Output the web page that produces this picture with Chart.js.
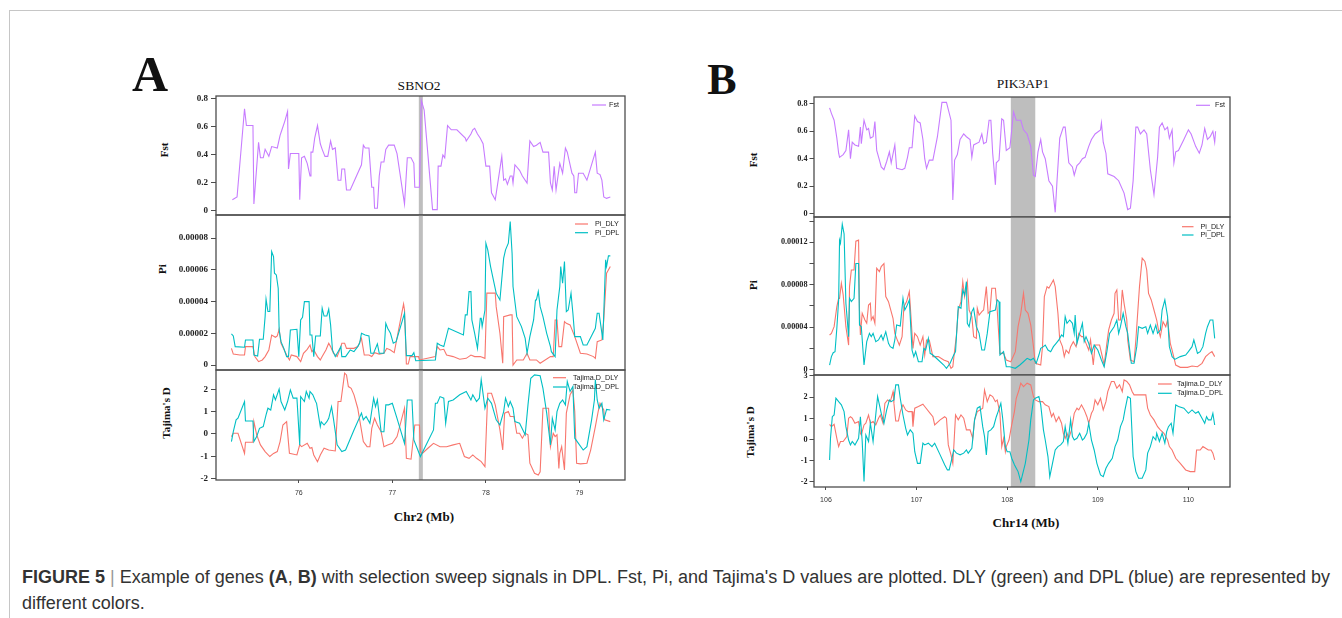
<!DOCTYPE html>
<html>
<head>
<meta charset="utf-8">
<title>Figure 5</title>
<script src="https://cdn.jsdelivr.net/npm/chart.js@4.4.1/dist/chart.umd.min.js"></script>
<style>
  html, body { margin: 0; padding: 0; background: #fff; }
  body { position: relative; width: 1342px; height: 618px; overflow: hidden; }
  #frame { position: absolute; left: 9px; top: 10px; width: 1400px; height: 700px; border-left: 1px solid #c6c6c6; border-top: 1px solid #c6c6c6; }
  .txt { position: absolute; font-family: "Liberation Serif", "Times New Roman", serif; color: #111; white-space: nowrap; line-height: 1; transform: translate(-50%, -50%); }
  .rot { transform: translate(-50%, -50%) rotate(-90deg); }
  canvas { position: absolute; }
  #caption { position: absolute; left: 22px; top: 564px; white-space: nowrap; font-family: "Liberation Sans", Arial, sans-serif; font-size: 18px; line-height: 26px; color: #333; }
  #caption .bar { color: #999; }
</style>
</head>
<body>
<div id="frame"></div>

<div class="txt" style="left:150px;top:74px;font-size:50px;font-weight:bold">A</div>
<div class="txt" style="left:722px;top:80px;font-size:44px;font-weight:bold">B</div>
<div class="txt" style="left:419px;top:86px;font-size:13.5px">SBNO2</div>
<div class="txt" style="left:1023px;top:84px;font-size:13.5px">PIK3AP1</div>

<div class="txt rot" style="left:164px;top:150px;font-size:11px;font-weight:bold">Fst</div>
<div class="txt rot" style="left:162px;top:269px;font-size:11px;font-weight:bold">Pi</div>
<div class="txt rot" style="left:166px;top:413px;font-size:11px;font-weight:bold">Tajima's D</div>
<div class="txt rot" style="left:753px;top:160px;font-size:11px;font-weight:bold">Fst</div>
<div class="txt rot" style="left:753px;top:285px;font-size:11px;font-weight:bold">Pi</div>
<div class="txt rot" style="left:750px;top:432px;font-size:11px;font-weight:bold">Tajima's D</div>

<div class="txt" style="left:424px;top:516px;font-size:13px;font-weight:bold">Chr2 (Mb)</div>
<div class="txt" style="left:1026px;top:522px;font-size:13px;font-weight:bold">Chr14 (Mb)</div>

<div id="caption"><b>FIGURE 5</b> <span class="bar">|</span> Example of genes <b>(A</b>, <b>B)</b> with selection sweep signals in DPL. Fst, Pi, and Tajima's D values are plotted. DLY (green) and DPL (blue) are represented by<br>different colors.</div>

<script>
// Pi values below are in units of 1e-5
const PI_UNIT = 1e-5;

// ---- Panel A : SBNO2, Chr2 ----
const A_FST = [[75.29,.08],[75.34,.10],[75.42,.73],[75.44,.61],[75.51,.61],[75.52,.05],[75.57,.49],[75.59,.38],[75.62,.38],[75.64,.44],[75.68,.39],[75.71,.46],[75.77,.45],[75.80,.54],[75.82,.58],[75.85,.64],[75.88,.71],[75.89,.30],[75.91,.41],[76.00,.41],[76.01,.08],[76.03,.38],[76.06,.39],[76.09,.34],[76.12,.25],[76.13,.42],[76.15,.42],[76.17,.52],[76.20,.61],[76.23,.48],[76.25,.44],[76.28,.39],[76.31,.39],[76.34,.50],[76.36,.44],[76.39,.45],[76.42,.22],[76.45,.22],[76.46,.30],[76.49,.30],[76.51,.15],[76.55,.15],[76.67,.33],[76.69,.47],[76.71,.45],[76.75,.45],[76.78,.17],[76.80,.17],[76.81,.02],[76.84,.02],[76.86,.25],[76.88,.35],[76.91,.35],[76.93,.44],[76.96,.47],[77.02,.47],[77.05,.41],[77.13,.05],[77.16,.38],[77.20,.38],[77.23,.34],[77.24,.17],[77.29,.17],[77.31,.79],[77.34,.72],[77.43,.01],[77.48,.01],[77.49,.32],[77.52,.32],[77.54,.40],[77.56,.38],[77.59,.61],[77.63,.58],[77.69,.58],[77.78,.52],[77.79,.50],[77.84,.55],[77.86,.58],[77.88,.59],[77.91,.55],[77.94,.52],[77.97,.48],[78.00,.32],[78.04,.32],[78.06,.13],[78.10,.08],[78.17,.39],[78.19,.22],[78.21,.23],[78.23,.19],[78.26,.25],[78.28,.25],[78.29,.20],[78.31,.33],[78.36,.29],[78.39,.25],[78.44,.20],[78.47,.50],[78.51,.46],[78.54,.47],[78.58,.49],[78.61,.42],[78.67,.42],[78.69,.20],[78.71,.15],[78.73,.32],[78.75,.15],[78.79,.34],[78.82,.27],[78.85,.45],[78.87,.42],[78.92,.27],[78.94,.25],[78.95,.13],[78.97,.13],[78.99,.27],[79.04,.27],[79.08,.22],[79.17,.42],[79.19,.27],[79.22,.26],[79.24,.22],[79.26,.10],[79.29,.09],[79.33,.10]];

const A_PI_DLY = [[75.28,1.05],[75.30,.69],[75.37,.63],[75.42,.63],[75.43,1.16],[75.51,1.16],[75.53,.53],[75.57,.21],[75.61,.32],[75.64,.53],[75.68,.95],[75.71,1.89],[75.75,1.75],[75.77,1.83],[75.79,2.25],[75.81,1.37],[75.87,.63],[75.90,.32],[75.92,.63],[75.98,.53],[76.02,.21],[76.05,.74],[76.09,.99],[76.12,1.26],[76.14,.84],[76.16,.95],[76.20,.53],[76.23,.32],[76.25,.53],[76.29,.95],[76.32,1.37],[76.34,1.16],[76.37,.74],[76.41,.53],[76.45,1.16],[76.46,1.37],[76.49,1.37],[76.51,1.05],[76.59,1.05],[76.63,1.16],[76.67,1.68],[76.70,.63],[76.75,.63],[76.78,.53],[76.81,.78],[76.86,.69],[76.91,.74],[76.94,1.05],[76.98,.95],[77.02,.78],[77.12,3.85],[77.13,3.47],[77.15,.06],[77.17,.06],[77.19,.53],[77.28,.53],[77.29,.32],[77.46,.53],[77.48,1.16],[77.51,.95],[77.55,.99],[77.58,.63],[77.65,.53],[77.72,.36],[77.79,.42],[77.84,.63],[77.88,.53],[77.94,.53],[77.99,.42],[78.01,4.53],[78.10,4.53],[78.11,3.68],[78.15,2.0],[78.18,.11],[78.19,3.05],[78.26,3.16],[78.28,3.16],[78.29,0],[78.33,.32],[78.40,.32],[78.44,.74],[78.47,.32],[78.54,.32],[78.58,.11],[78.69,.53],[78.72,.53],[78.74,2.84],[78.76,2.84],[78.78,1.16],[78.81,1.16],[78.84,2.74],[78.86,2.63],[78.90,2.53],[78.95,1.79],[79.01,.74],[79.08,.69],[79.15,.53],[79.17,.42],[79.19,1.47],[79.24,1.58],[79.26,2.84],[79.29,5.79],[79.33,6.21]];

const A_PI_DPL = [[75.28,1.96],[75.30,1.83],[75.32,1.16],[75.42,1.12],[75.43,1.58],[75.51,1.58],[75.52,.63],[75.56,.57],[75.58,1.62],[75.62,1.62],[75.64,3.05],[75.65,4.15],[75.67,3.37],[75.69,3.37],[75.71,7.16],[75.73,6.84],[75.74,5.79],[75.76,5.68],[75.78,4.84],[75.79,2.21],[75.81,1.47],[75.84,1.05],[75.87,.53],[75.89,.53],[75.91,2.21],[75.98,2.25],[76.00,.53],[76.02,2.84],[76.04,3.01],[76.06,4.0],[76.11,4.0],[76.12,1.89],[76.14,1.89],[76.16,.53],[76.18,1.83],[76.23,1.83],[76.25,3.58],[76.27,3.09],[76.30,3.09],[76.32,3.52],[76.34,2.53],[76.36,.95],[76.39,.53],[76.42,.84],[76.45,1.16],[76.46,.53],[76.50,.53],[76.55,.95],[76.59,.84],[76.63,1.16],[76.65,1.37],[76.67,2.0],[76.71,1.89],[76.75,1.83],[76.77,.74],[76.80,.74],[76.84,1.33],[76.86,.74],[76.91,.74],[76.93,2.63],[76.95,2.32],[76.98,2.0],[77.01,1.37],[77.04,1.47],[77.13,3.26],[77.15,.59],[77.21,.59],[77.23,.78],[77.25,.27],[77.46,.32],[77.48,1.37],[77.51,1.26],[77.55,1.16],[77.60,2.32],[77.76,1.89],[77.78,3.16],[77.80,3.16],[77.82,4.63],[77.84,4.63],[77.85,2.84],[77.88,2.0],[77.91,1.05],[77.94,2.95],[77.95,2.95],[77.96,2.42],[77.99,3.47],[78.00,7.68],[78.02,7.26],[78.05,6.21],[78.08,5.37],[78.11,4.53],[78.15,4.1],[78.19,6.74],[78.21,7.26],[78.24,7.68],[78.26,9.05],[78.28,7.05],[78.29,4.95],[78.33,3.05],[78.38,2.42],[78.42,1.68],[78.44,.74],[78.47,1.79],[78.51,2.84],[78.53,4.1],[78.54,4.1],[78.56,4.63],[78.58,3.68],[78.61,3.05],[78.65,2.0],[78.69,1.16],[78.70,.84],[78.74,.53],[78.76,3.47],[78.79,4.95],[78.80,6.21],[78.82,5.16],[78.84,6.53],[78.86,3.37],[78.88,3.47],[78.91,4.53],[78.93,3.26],[78.95,1.79],[79.01,1.79],[79.04,1.26],[79.08,1.26],[79.17,2.32],[79.19,3.26],[79.21,3.26],[79.25,1.58],[79.28,6.63],[79.29,6.21],[79.31,6.88],[79.33,6.88]];

const A_TD_DLY = [[75.28,-.12],[75.30,.03],[75.35,.03],[75.42,-.87],[75.43,-.37],[75.51,-.37],[75.52,.55],[75.55,-.04],[75.59,-.49],[75.64,-.79],[75.69,-1.01],[75.73,-.87],[75.77,-.79],[75.80,-.34],[75.83,.40],[75.87,.55],[75.90,-.87],[75.98,-.94],[76.01,-.49],[76.03,-.57],[76.09,-.42],[76.12,-.64],[76.14,-.61],[76.16,-.94],[76.20,-1.24],[76.23,-.94],[76.27,-.64],[76.32,-.72],[76.39,-.76],[76.42,1.45],[76.45,1.45],[76.49,2.72],[76.51,2.64],[76.53,2.12],[76.56,2.04],[76.59,1.75],[76.63,1.15],[76.69,-.34],[76.73,-.57],[76.76,-.57],[76.78,.25],[76.81,.70],[76.84,.40],[76.88,.10],[76.91,-.57],[76.95,-.49],[77.00,-.42],[77.05,-.12],[77.13,1.15],[77.15,-1.09],[77.20,-1.13],[77.23,.03],[77.24,.40],[77.29,.40],[77.30,-.79],[77.32,-.87],[77.38,-.64],[77.44,-.42],[77.51,-.57],[77.58,-.57],[77.65,-.49],[77.72,-.42],[77.77,-1.01],[77.82,-1.09],[77.86,-.94],[77.90,-1.09],[77.95,-1.24],[77.99,-1.46],[78.02,1.82],[78.06,1.82],[78.10,1.30],[78.15,.18],[78.18,-.72],[78.20,.93],[78.24,1.0],[78.26,.78],[78.30,.78],[78.33,.03],[78.36,.03],[78.39,-.19],[78.42,.03],[78.45,-.04],[78.47,-1.31],[78.52,-1.76],[78.56,-1.84],[78.58,-1.69],[78.61,1.15],[78.67,1.15],[78.69,-.57],[78.72,.03],[78.74,-.12],[78.76,-.04],[78.78,-1.54],[78.79,-.87],[78.81,-.57],[78.84,-1.61],[78.86,.93],[78.90,1.75],[78.93,1.97],[78.95,1.0],[78.97,-1.31],[79.01,-1.34],[79.08,-1.31],[79.12,-.72],[79.17,.33],[79.20,1.0],[79.22,1.37],[79.26,1.07],[79.27,.63],[79.33,.55]];

const A_TD_DPL = [[75.28,-.34],[75.30,.10],[75.33,.63],[75.35,.70],[75.42,1.45],[75.43,.58],[75.51,.58],[75.52,-.34],[75.55,-.12],[75.58,.25],[75.62,.33],[75.65,.85],[75.67,1.15],[75.70,1.07],[75.73,1.75],[75.75,1.52],[75.79,2.01],[75.81,1.45],[75.85,1.07],[75.88,1.45],[75.91,1.97],[75.94,1.60],[75.98,1.60],[76.01,-.49],[76.02,1.67],[76.06,1.45],[76.08,1.90],[76.11,1.60],[76.12,1.90],[76.15,1.75],[76.18,1.45],[76.19,1.37],[76.23,.33],[76.24,.55],[76.27,.40],[76.30,.55],[76.32,.70],[76.35,1.22],[76.37,.70],[76.41,-.49],[76.46,-.79],[76.50,-.72],[76.59,.18],[76.67,.93],[76.69,.63],[76.72,.78],[76.76,.48],[76.80,1.60],[76.82,1.22],[76.84,1.52],[76.88,.10],[76.91,.10],[76.93,1.30],[76.96,1.30],[77.00,1.37],[77.05,.70],[77.13,-.42],[77.16,1.52],[77.21,1.52],[77.23,-.27],[77.30,-1.01],[77.44,.18],[77.46,1.37],[77.48,1.37],[77.51,1.67],[77.55,1.60],[77.57,.48],[77.60,1.45],[77.65,1.52],[77.72,1.75],[77.79,1.90],[77.84,1.52],[77.86,1.75],[77.90,1.45],[77.93,1.60],[77.95,2.42],[77.99,1.15],[78.02,1.60],[78.06,1.37],[78.11,.63],[78.15,.40],[78.19,1.0],[78.21,1.60],[78.24,1.22],[78.26,1.45],[78.29,1.15],[78.31,.55],[78.36,.48],[78.42,-.04],[78.45,1.30],[78.48,2.49],[78.52,2.64],[78.58,2.60],[78.61,2.04],[78.65,.93],[78.69,-.49],[78.71,.70],[78.74,.18],[78.76,1.0],[78.79,1.37],[78.82,1.52],[78.85,1.30],[78.87,2.34],[78.90,1.90],[78.93,2.12],[78.95,-.19],[79.04,-.72],[79.08,-.57],[79.13,.63],[79.16,1.52],[79.17,2.42],[79.19,1.52],[79.21,1.15],[79.24,1.37],[79.26,.63],[79.29,1.10],[79.33,1.07]];

// ---- Panel B : PIK3AP1, Chr14 ----
const B_FST = [[106.04,.77],[106.06,.73],[106.09,.68],[106.12,.55],[106.14,.44],[106.15,.41],[106.19,.43],[106.22,.46],[106.25,.61],[106.27,.40],[106.29,.52],[106.32,.50],[106.36,.49],[106.38,.63],[106.39,.51],[106.42,.68],[106.45,.61],[106.47,.62],[106.49,.55],[106.52,.56],[106.54,.67],[106.56,.46],[106.59,.39],[106.61,.34],[106.64,.32],[106.67,.38],[106.70,.45],[106.72,.37],[106.76,.50],[106.78,.33],[106.84,.32],[106.87,.33],[106.90,.41],[106.92,.48],[106.95,.48],[106.98,.71],[107.01,.67],[107.04,.66],[107.07,.54],[107.09,.40],[107.11,.33],[107.14,.39],[107.18,.39],[107.23,.56],[107.28,.81],[107.33,.81],[107.38,.68],[107.40,.10],[107.42,.39],[107.45,.43],[107.48,.54],[107.52,.58],[107.55,.56],[107.59,.54],[107.61,.41],[107.63,.50],[107.66,.51],[107.69,.52],[107.72,.58],[107.74,.51],[107.77,.52],[107.80,.68],[107.82,.68],[107.84,.44],[107.87,.21],[107.88,.37],[107.91,.39],[107.94,.69],[107.96,.68],[107.99,.46],[108.03,.48],[108.07,.74],[108.10,.68],[108.15,.68],[108.18,.61],[108.22,.58],[108.26,.49],[108.29,.28],[108.31,.27],[108.34,.45],[108.37,.54],[108.39,.45],[108.42,.40],[108.46,.24],[108.50,.20],[108.53,.01],[108.55,.24],[108.58,.55],[108.62,.63],[108.64,.63],[108.68,.37],[108.72,.34],[108.74,.28],[108.77,.35],[108.80,.37],[108.83,.40],[108.86,.41],[108.90,.49],[108.93,.54],[108.97,.58],[109.03,.61],[109.04,.66],[109.06,.52],[109.09,.44],[109.11,.29],[109.18,.27],[109.23,.24],[109.29,.15],[109.33,.03],[109.36,.04],[109.39,.24],[109.42,.63],[109.44,.63],[109.47,.58],[109.51,.61],[109.54,.58],[109.58,.32],[109.62,.14],[109.66,.41],[109.68,.63],[109.71,.66],[109.74,.61],[109.77,.63],[109.79,.55],[109.82,.61],[109.84,.37],[109.86,.45],[109.89,.46],[109.95,.54],[110.00,.61],[110.03,.58],[110.08,.49],[110.12,.44],[110.15,.50],[110.18,.62],[110.21,.54],[110.24,.56],[110.27,.60],[110.29,.52],[110.30,.60]];

const B_PI_DLY = [[106.04,3.27],[106.06,3.42],[106.09,4.05],[106.12,5.94],[106.14,6.72],[106.15,6.72],[106.17,8.14],[106.19,7.04],[106.22,4.05],[106.25,2.32],[106.26,7.82],[106.28,9.39],[106.31,9.39],[106.33,12.1],[106.36,12.2],[106.37,5.62],[106.38,3.27],[106.40,5.31],[106.43,4.68],[106.45,4.37],[106.47,6.09],[106.49,6.25],[106.50,4.68],[106.52,5.0],[106.54,4.37],[106.56,9.55],[106.59,9.24],[106.61,9.71],[106.64,10.0],[106.66,6.88],[106.69,6.41],[106.71,5.78],[106.74,4.84],[106.76,3.42],[106.78,2.95],[106.81,2.32],[106.84,3.11],[106.86,5.94],[106.89,6.41],[106.92,7.35],[106.93,6.09],[106.96,2.01],[106.98,3.42],[107.01,3.11],[107.04,2.32],[107.07,3.11],[107.09,1.38],[107.11,2.80],[107.14,2.80],[107.18,1.23],[107.24,1.23],[107.30,.91],[107.35,.75],[107.38,.13],[107.40,.28],[107.41,1.07],[107.44,3.27],[107.46,5.62],[107.49,6.41],[107.51,8.29],[107.53,6.88],[107.56,8.29],[107.58,5.62],[107.61,5.0],[107.63,3.11],[107.66,2.95],[107.67,5.78],[107.69,5.15],[107.72,5.47],[107.74,5.62],[107.77,7.82],[107.79,5.31],[107.81,5.47],[107.83,7.67],[107.87,7.67],[107.89,5.62],[107.92,1.54],[107.96,1.54],[107.99,.91],[108.04,.75],[108.09,1.70],[108.12,4.05],[108.15,5.31],[108.18,7.19],[108.20,5.62],[108.23,5.31],[108.26,4.21],[108.29,2.17],[108.31,.60],[108.37,.44],[108.39,2.17],[108.41,6.88],[108.44,7.82],[108.46,7.67],[108.49,8.14],[108.51,8.45],[108.53,7.82],[108.56,5.31],[108.58,2.80],[108.61,2.17],[108.63,1.23],[108.65,1.85],[108.68,1.54],[108.70,2.17],[108.73,2.64],[108.76,2.17],[108.79,3.42],[108.82,3.11],[108.84,3.11],[108.87,2.48],[108.90,1.85],[108.92,2.80],[108.95,.44],[108.97,2.32],[109.02,2.32],[109.05,1.23],[109.07,.44],[109.10,2.48],[109.12,3.74],[109.15,4.68],[109.18,5.31],[109.19,7.19],[109.21,7.51],[109.23,4.68],[109.25,4.68],[109.27,7.51],[109.29,6.25],[109.32,4.68],[109.33,2.80],[109.36,.91],[109.40,.75],[109.42,2.80],[109.44,5.31],[109.46,7.82],[109.49,10.5],[109.52,10.2],[109.54,9.39],[109.56,7.19],[109.59,6.57],[109.62,5.62],[109.65,4.68],[109.67,3.74],[109.69,3.11],[109.72,4.52],[109.75,4.05],[109.77,4.68],[109.80,2.48],[109.82,1.85],[109.86,.44],[109.91,.22],[109.99,.22],[110.04,.35],[110.10,.28],[110.15,.60],[110.19,1.23],[110.23,1.54],[110.26,1.70],[110.29,1.23]];

const B_PI_DPL = [[106.04,.44],[106.06,1.23],[106.08,1.60],[106.10,1.70],[106.12,3.90],[106.14,6.57],[106.15,12.2],[106.16,11.9],[106.18,13.7],[106.20,12.8],[106.22,6.25],[106.25,3.11],[106.26,6.72],[106.28,6.41],[106.31,6.72],[106.33,10.0],[106.36,10.0],[106.37,4.21],[106.39,4.05],[106.42,.44],[106.45,2.64],[106.48,3.42],[106.50,3.11],[106.52,3.42],[106.55,2.64],[106.58,2.80],[106.61,3.27],[106.63,2.80],[106.66,3.58],[106.69,2.48],[106.71,2.17],[106.74,2.01],[106.76,2.80],[106.78,4.21],[106.82,4.12],[106.85,6.72],[106.87,5.62],[106.89,5.94],[106.92,6.57],[106.95,1.85],[106.97,1.23],[106.99,1.70],[107.02,.75],[107.06,.75],[107.08,2.01],[107.10,1.85],[107.13,2.95],[107.15,1.54],[107.18,1.38],[107.24,.91],[107.30,.44],[107.33,.13],[107.37,.60],[107.41,1.38],[107.43,1.70],[107.46,5.94],[107.49,5.78],[107.51,7.51],[107.53,7.04],[107.55,8.29],[107.56,4.37],[107.58,4.05],[107.61,5.47],[107.63,5.78],[107.66,4.05],[107.69,3.42],[107.72,1.85],[107.75,1.85],[107.78,3.42],[107.81,5.47],[107.87,5.62],[107.89,6.57],[107.91,6.41],[107.92,1.38],[107.96,1.70],[107.99,.28],[108.03,.28],[108.09,.13],[108.14,.44],[108.18,.75],[108.22,1.07],[108.26,.91],[108.29,1.07],[108.32,.60],[108.35,1.38],[108.37,2.01],[108.40,2.17],[108.42,2.32],[108.45,1.85],[108.48,1.70],[108.51,2.17],[108.54,2.48],[108.57,2.80],[108.60,3.27],[108.62,3.11],[108.64,5.0],[108.66,4.37],[108.69,4.68],[108.72,4.37],[108.74,3.42],[108.75,5.15],[108.77,2.48],[108.80,3.42],[108.83,4.37],[108.85,2.64],[108.87,3.11],[108.90,2.48],[108.93,1.54],[108.96,2.32],[109.00,1.85],[109.04,.91],[109.07,.28],[109.10,1.70],[109.13,3.42],[109.18,4.05],[109.21,4.68],[109.23,3.42],[109.25,4.05],[109.28,5.31],[109.31,4.05],[109.33,3.42],[109.37,.60],[109.40,.60],[109.43,2.17],[109.45,4.05],[109.49,3.90],[109.53,4.05],[109.55,3.42],[109.58,4.21],[109.61,3.42],[109.64,4.21],[109.66,3.42],[109.69,3.74],[109.71,5.62],[109.74,6.57],[109.77,5.0],[109.79,2.17],[109.82,1.23],[109.85,.97],[109.91,1.23],[109.97,1.38],[110.00,1.70],[110.04,2.17],[110.06,2.80],[110.10,1.54],[110.13,1.70],[110.16,2.17],[110.19,3.42],[110.21,4.05],[110.24,4.68],[110.27,4.68],[110.29,2.95]];

const B_TD_DLY = [[106.04,.72],[106.06,.61],[106.09,.72],[106.12,.06],[106.14,-.33],[106.16,-.09],[106.19,-.09],[106.23,.14],[106.25,1.01],[106.27,1.08],[106.29,1.01],[106.32,.77],[106.36,.85],[106.38,.30],[106.39,.22],[106.42,.69],[106.44,.77],[106.47,1.16],[106.49,.77],[106.52,.85],[106.55,.69],[106.58,1.01],[106.60,1.16],[106.63,.77],[106.65,1.71],[106.68,1.87],[106.71,1.79],[106.74,2.26],[106.75,1.71],[106.77,.88],[106.80,.88],[106.82,1.32],[106.85,1.64],[106.88,1.40],[106.91,1.32],[106.95,1.32],[106.96,.61],[106.98,1.48],[107.02,1.56],[107.07,1.67],[107.09,1.56],[107.15,1.24],[107.18,1.08],[107.20,.69],[107.26,.93],[107.31,1.08],[107.33,1.01],[107.35,-.25],[107.38,-.72],[107.40,-1.12],[107.41,-.41],[107.43,1.16],[107.46,.93],[107.49,1.16],[107.52,1.01],[107.55,.46],[107.59,.46],[107.62,.06],[107.64,.93],[107.67,1.32],[107.70,1.40],[107.73,1.48],[107.75,2.34],[107.78,1.79],[107.81,2.11],[107.84,2.03],[107.87,1.79],[107.89,1.87],[107.92,1.24],[107.94,-.33],[107.96,.06],[107.98,-.57],[107.99,-.33],[108.02,-.02],[108.05,.69],[108.08,1.32],[108.10,1.95],[108.13,2.34],[108.15,2.66],[108.18,2.50],[108.22,2.66],[108.26,2.58],[108.29,2.03],[108.31,1.87],[108.35,1.79],[108.39,1.79],[108.42,1.64],[108.46,1.56],[108.49,1.08],[108.51,1.24],[108.54,.85],[108.57,1.08],[108.60,.77],[108.62,.30],[108.64,.06],[108.66,.30],[108.68,.06],[108.71,.46],[108.74,1.24],[108.77,1.48],[108.79,1.40],[108.82,1.64],[108.85,1.40],[108.88,1.08],[108.90,.77],[108.93,1.24],[108.95,1.40],[108.97,1.87],[109.00,1.64],[109.03,1.95],[109.06,1.40],[109.09,1.79],[109.11,2.26],[109.15,2.74],[109.18,2.74],[109.21,2.42],[109.24,2.58],[109.27,2.26],[109.29,2.82],[109.32,2.74],[109.35,2.58],[109.38,2.26],[109.40,2.11],[109.53,2.11],[109.55,1.48],[109.58,1.16],[109.62,.93],[109.66,.61],[109.69,.46],[109.73,.30],[109.77,-.02],[109.79,-.33],[109.82,-.49],[109.86,-.88],[109.91,-1.12],[109.97,-1.43],[110.02,-1.51],[110.07,-1.51],[110.09,-.49],[110.13,-.49],[110.16,-.33],[110.19,-.41],[110.22,-.49],[110.25,-.49],[110.27,-.64],[110.29,-.96]];

const B_TD_DPL = [[106.04,-.96],[106.05,.06],[106.07,1.08],[106.09,1.16],[106.11,1.95],[106.14,1.79],[106.17,1.64],[106.20,1.32],[106.22,.61],[106.25,-.02],[106.27,-.25],[106.29,-.09],[106.32,-.25],[106.36,.06],[106.38,1.08],[106.40,-.09],[106.42,-1.98],[106.44,.22],[106.47,-.09],[106.49,.77],[106.52,-.09],[106.54,.77],[106.57,2.03],[106.59,1.64],[106.61,1.24],[106.64,.77],[106.67,1.40],[106.70,1.87],[106.72,1.79],[106.75,1.87],[106.77,2.58],[106.80,2.58],[106.82,1.95],[106.85,1.16],[106.88,.53],[106.90,.22],[106.93,.46],[106.96,.30],[106.98,-.57],[107.01,-1.12],[107.04,-1.12],[107.07,-.17],[107.09,-.25],[107.13,-.17],[107.17,-.33],[107.20,-.17],[107.26,-.72],[107.31,-1.19],[107.34,-1.43],[107.36,-1.43],[107.39,-.88],[107.41,-.49],[107.44,-.64],[107.48,-.72],[107.52,-.64],[107.55,-.49],[107.57,-.64],[107.61,-.41],[107.64,.93],[107.67,1.48],[107.70,1.56],[107.73,.61],[107.75,.14],[107.77,-.72],[107.79,.38],[107.82,.46],[107.85,.61],[107.88,1.08],[107.90,1.32],[107.93,1.71],[107.95,1.01],[107.98,-.33],[108.00,-.57],[108.03,-.57],[108.05,-.88],[108.08,-1.19],[108.10,-1.35],[108.12,-1.51],[108.15,-1.98],[108.20,-1.12],[108.24,-.02],[108.26,.93],[108.29,1.87],[108.31,1.95],[108.35,2.03],[108.37,1.64],[108.40,.46],[108.42,-.02],[108.45,-.80],[108.47,-1.75],[108.50,-1.12],[108.53,-.49],[108.56,-.33],[108.59,-.25],[108.62,-.09],[108.64,.61],[108.67,-.17],[108.70,.93],[108.72,.14],[108.74,-.02],[108.77,.06],[108.80,.30],[108.83,-.02],[108.85,.06],[108.88,.30],[108.90,.77],[108.93,-.02],[108.96,-.49],[108.99,-1.12],[109.03,-1.67],[109.06,-1.75],[109.09,-1.35],[109.12,-1.12],[109.16,-.88],[109.19,-.33],[109.22,-.02],[109.25,.61],[109.28,.93],[109.30,1.40],[109.33,2.03],[109.36,1.95],[109.39,-.80],[109.42,-1.51],[109.45,-1.82],[109.49,-1.82],[109.53,-1.43],[109.55,-.64],[109.58,-.33],[109.61,.14],[109.64,-.02],[109.65,.30],[109.68,-.09],[109.71,.30],[109.74,-.17],[109.76,.38],[109.78,.61],[109.81,.77],[109.83,.30],[109.86,1.64],[109.89,1.56],[109.95,1.48],[110.00,1.24],[110.04,1.40],[110.08,1.24],[110.11,1.32],[110.15,1.01],[110.18,.77],[110.20,1.08],[110.22,.93],[110.25,.93],[110.27,1.24],[110.29,.69]];

// selected region (gray band) per panel, in Mb
const A_BAND = [77.283, 77.326];
const B_BAND = [108.04, 108.31];

const C_FST = '#C77CFF', C_DLY = '#F8766D', C_DPL = '#00BFC4';

// ---------- plugins ----------
const bandPlugin = {
  id: 'band',
  beforeDatasetsDraw(chart, args, o) {
    const { ctx, chartArea: a, scales: { x } } = chart;
    const x0 = x.getPixelForValue(o.range[0]), x1 = x.getPixelForValue(o.range[1]);
    ctx.save();
    ctx.fillStyle = '#BEBEBE';
    ctx.fillRect(x0, a.top, x1 - x0, a.bottom - a.top);
    ctx.restore();
  }
};

const boxPlugin = {
  id: 'box',
  afterDatasetsDraw(chart) {
    const { ctx, chartArea: a } = chart;
    ctx.save();
    ctx.strokeStyle = '#4d4d4d';
    ctx.lineWidth = 1.3;
    ctx.strokeRect(a.left, a.top, a.right - a.left, a.bottom - a.top);
    ctx.restore();
  }
};

const keyPlugin = {
  id: 'key',
  afterDraw(chart, args, o) {
    const { ctx, chartArea: a } = chart;
    ctx.save();
    ctx.font = '7.2px "Liberation Sans", Arial, sans-serif';
    ctx.textBaseline = 'middle';
    o.items.forEach((it, i) => {
      const y = a.top + o.top + i * o.gap;
      const x = a.right + o.x;
      ctx.strokeStyle = it.color;
      ctx.lineWidth = 1.2;
      ctx.beginPath(); ctx.moveTo(x, y); ctx.lineTo(x + o.len, y); ctx.stroke();
      ctx.fillStyle = '#222';
      ctx.fillText(it.label, x + o.len + o.pad, y);
    });
    ctx.restore();
  }
};

function series(pairs, color, k) {
  return {
    data: pairs.map(p => ({ x: p[0], y: p[1] * (k || 1) })),
    borderColor: color,
    borderWidth: 1.1,
    pointRadius: 0,
    tension: 0,
    fill: false
  };
}

// one stacked sub-plot, its plot box fixed at area
function addPlot(area, p) {
  const axisW = 80, padT = 10, padR = 10;
  const padB = p.bottom ? 0 : 10;
  const xH = p.bottom ? 24 : 0;
  const w = Math.round(area.r - area.l) + axisW + padR;
  const h = Math.round(area.b - area.t) + padT + padB + xH;
  const cv = document.createElement('canvas');
  cv.width = w; cv.height = h;
  cv.style.left = (area.l - axisW) + 'px';
  cv.style.top = (area.t - padT) + 'px';
  document.body.appendChild(cv);

  new Chart(cv, {
    type: 'line',
    data: { datasets: p.datasets },
    plugins: [bandPlugin, boxPlugin, keyPlugin],
    options: {
      responsive: false,
      animation: false,
      events: [],
      layout: { padding: { left: 0, top: padT, right: padR, bottom: padB } },
      plugins: {
        legend: { display: false },
        tooltip: { enabled: false },
        band: { range: p.band },
        key: p.key
      },
      scales: {
        x: {
          type: 'linear',
          min: p.xMin, max: p.xMax,
          display: !!p.bottom,
          border: { display: false },
          grid: { drawOnChartArea: false, drawTicks: true, tickLength: 3, color: '#4d4d4d' },
          ticks: { stepSize: 1, includeBounds: false, maxRotation: 0, padding: 6, color: '#333',
                   font: { family: '"Liberation Sans", Arial, sans-serif', size: 7 } },
          afterFit: s => { s.height = xH; }
        },
        y: {
          type: 'linear',
          min: p.yMin, max: p.yMax,
          border: { display: false },
          grid: { drawOnChartArea: false, drawTicks: true, tickLength: p.tickLen, color: '#4d4d4d' },
          ticks: { stepSize: p.step, includeBounds: false, padding: p.tickPad, color: '#222', callback: p.fmt,
                   font: { family: '"Liberation Serif", "Times New Roman", serif', size: p.tickSize, weight: 'bold' } },
          afterFit: s => { s.width = axisW; }
        }
      }
    }
  });
}

const fmtFst = v => (Math.abs(v) < 1e-9 ? '0' : v.toFixed(1));
const fmtTd = v => String(Math.round(v));
const fmtPiA = v => (Math.abs(v) < 1e-12 ? '0' : v.toFixed(5));
const fmtPiB = v => {
  const k = Math.round(v / 2e-5);
  if (k % 2) return '';
  return k === 0 ? '0' : v.toFixed(5);
};

// ---------- panel A ----------
const A = { l: 216, r: 625, xMin: 75.115, xMax: 79.487, band: A_BAND, tickSize: 9, tickLen: 5, tickPad: 3 };
addPlot({ l: A.l, r: A.r, t: 96, b: 215 }, Object.assign({}, A, {
  yMin: -0.0286, yMax: 0.821, step: 0.2, fmt: fmtFst,
  datasets: [series(A_FST, C_FST)],
  key: { x: -33, top: 9, gap: 9, len: 14, pad: 3, items: [{ label: 'Fst', color: C_FST }] }
}));
addPlot({ l: A.l, r: A.r, t: 215, b: 370 }, Object.assign({}, A, {
  yMin: -0.315e-5, yMax: 9.46e-5, step: 2e-5, fmt: fmtPiA,
  datasets: [series(A_PI_DPL, C_DPL, PI_UNIT), series(A_PI_DLY, C_DLY, PI_UNIT)],
  key: { x: -50, top: 9, gap: 8.7, len: 13, pad: 7, items: [{ label: 'Pi_DLY', color: C_DLY }, { label: 'Pi_DPL', color: C_DPL }] }
}));
addPlot({ l: A.l, r: A.r, t: 370, b: 480 }, Object.assign({}, A, {
  bottom: true, yMin: -2.06, yMax: 2.86, step: 1, fmt: fmtTd,
  datasets: [series(A_TD_DPL, C_DPL), series(A_TD_DLY, C_DLY)],
  key: { x: -72, top: 7.7, gap: 9.3, len: 13, pad: 7, items: [{ label: 'Tajima.D_DLY', color: C_DLY }, { label: 'Tajima.D_DPL', color: C_DPL }] }
}));

// ---------- panel B ----------
const B = { l: 814, r: 1230, xMin: 105.868, xMax: 110.459, band: B_BAND, tickSize: 8.2, tickLen: 4.5, tickPad: 2 };
addPlot({ l: B.l, r: B.r, t: 97, b: 217 }, Object.assign({}, B, {
  yMin: -0.024, yMax: 0.849, step: 0.2, fmt: fmtFst,
  datasets: [series(B_FST, C_FST)],
  key: { x: -34, top: 8.3, gap: 9, len: 14, pad: 5, items: [{ label: 'Fst', color: C_FST }] }
}));
addPlot({ l: B.l, r: B.r, t: 217, b: 375 }, Object.assign({}, B, {
  yMin: -0.5e-5, yMax: 14.38e-5, step: 2e-5, fmt: fmtPiB,
  datasets: [series(B_PI_DPL, C_DPL, PI_UNIT), series(B_PI_DLY, C_DLY, PI_UNIT)],
  key: { x: -48, top: 9.7, gap: 8.3, len: 11.5, pad: 7, items: [{ label: 'Pi_DLY', color: C_DLY }, { label: 'Pi_DPL', color: C_DPL }] }
}));
addPlot({ l: B.l, r: B.r, t: 375, b: 487 }, Object.assign({}, B, {
  bottom: true, yMin: -2.236, yMax: 3.047, step: 1, fmt: fmtTd,
  datasets: [series(B_TD_DPL, C_DPL), series(B_TD_DLY, C_DLY)],
  key: { x: -72, top: 9, gap: 9.3, len: 13.7, pad: 5.3, items: [{ label: 'Tajima.D_DLY', color: C_DLY }, { label: 'Tajima.D_DPL', color: C_DPL }] }
}));
</script>
</body>
</html>
